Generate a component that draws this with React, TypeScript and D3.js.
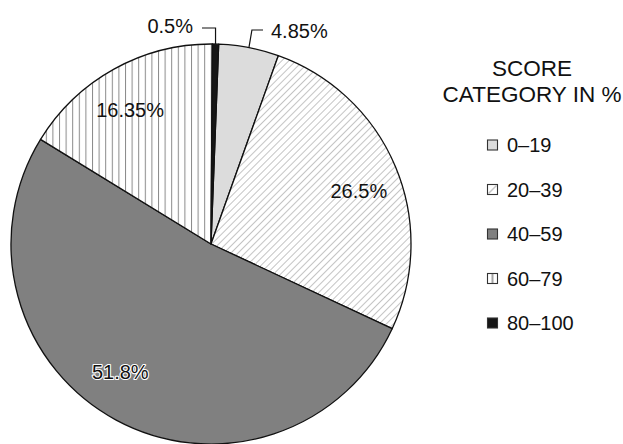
import React, { useEffect, useRef } from "react";
import * as d3 from "d3";

const categories = ["0–19", "20–39", "40–59", "60–79", "80–100"];
const shares = [4.85, 26.5, 51.8, 16.35, 0.5];
const labels = ["4.85%", "26.5%", "51.8%", "16.35%", "0.5%"];
const legendTitle = ["SCORE", "CATEGORY IN %"];

const W = 623;
const H = 444;
const FONT = "'Liberation Sans', Arial, sans-serif";

export default function App() {
  const ref = useRef<SVGSVGElement | null>(null);

  useEffect(() => {
    const svg = d3.select(ref.current);
    svg.selectAll("*").remove();

    const cx = 211, cy = 244, r = 200;
    const rot = (2.2 * Math.PI) / 180;

    const defs = svg.append("defs");
    const diag = defs.append("pattern").attr("id", "pDiag").attr("patternUnits", "userSpaceOnUse")
      .attr("width", 5).attr("height", 5).attr("patternTransform", "rotate(45)");
    diag.append("rect").attr("width", 5).attr("height", 5).attr("fill", "#fff");
    diag.append("line").attr("x1", 0).attr("y1", 0).attr("x2", 0).attr("y2", 5)
      .attr("stroke", "#8a8a8a").attr("stroke-width", 1);
    const vert = defs.append("pattern").attr("id", "pVert").attr("patternUnits", "userSpaceOnUse")
      .attr("width", 6.6).attr("height", 10).attr("x", cx);
    vert.append("rect").attr("width", 6.6).attr("height", 10).attr("fill", "#fff");
    vert.append("line").attr("x1", 0.5).attr("y1", 0).attr("x2", 0.5).attr("y2", 10)
      .attr("stroke", "#8a8a8a").attr("stroke-width", 1);

    const fills = ["#dcdcdc", "url(#pDiag)", "#808080", "url(#pVert)", "#161616"];
    const legendFills = ["#dcdcdc", "url(#pDiagL)", "#808080", "url(#pVertL)", "#161616"];

    const pie = d3.pie<number>().sort(null).value((d) => d)
      .startAngle(rot).endAngle(rot + 2 * Math.PI);
    const arcs = pie(shares);
    const arc = d3.arc<d3.PieArcDatum<number>>().innerRadius(0).outerRadius(r);

    const g = svg.append("g").attr("transform", `translate(${cx},${cy})`);
    g.selectAll("path.slice").data(arcs).enter().append("path")
      .attr("class", "slice")
      .attr("d", arc as any)
      .attr("fill", (_d, i) => fills[i])
      .attr("stroke", "#111")
      .attr("stroke-width", 1.3)
      .attr("stroke-linejoin", "round");

    // inside labels
    const labelR = 157;
    const angleNudge: Record<number, number> = { 1: 3, 2: 7, 3: -2 };
    const inside = [1, 2, 3];
    inside.forEach((i) => {
      const a = arcs[i];
      const mid = (a.startAngle + a.endAngle) / 2 + ((angleNudge[i] || 0) * Math.PI) / 180;
      const x = labelR * Math.sin(mid);
      const y = -labelR * Math.cos(mid);
      const t = g.append("text")
        .attr("x", x).attr("y", y)
        .attr("dy", "0.36em")
        .attr("text-anchor", "middle")
        .attr("font-family", FONT)
        .attr("font-size", 20)
        .attr("fill", "#111")
        .text(labels[i]);
      if (i === 2) {
        t.attr("stroke", "#fff").attr("stroke-width", 2.2).attr("paint-order", "stroke")
          .attr("stroke-linejoin", "round");
      }
    });

    // outside labels with leaders
    const outside = [
      { i: 0, ly: -214, lx: 52, anchor: "start", tx: 60, ty: -206 },
      { i: 4, ly: -216, lx: -9, anchor: "end", tx: -18, ty: -211 },
    ];
    outside.forEach((o) => {
      const a = arcs[o.i];
      const mid = (a.startAngle + a.endAngle) / 2;
      const px = r * Math.sin(mid);
      const py = -r * Math.cos(mid);
      const topX = o.i === 0 ? px + 3 : px;
      g.append("path")
        .attr("d", `M${px},${py}L${topX},${o.ly}L${o.lx},${o.ly}`)
        .attr("fill", "none").attr("stroke", "#111").attr("stroke-width", 1.2);
      g.append("text")
        .attr("x", o.tx).attr("y", o.ty)
        .attr("text-anchor", o.anchor)
        .attr("font-family", FONT).attr("font-size", 20).attr("fill", "#111")
        .text(labels[o.i]);
    });

    // legend
    const lg = svg.append("g");
    legendTitle.forEach((t, k) => {
      lg.append("text")
        .attr("x", 532).attr("y", 76 + k * 26)
        .attr("text-anchor", "middle")
        .attr("font-family", FONT).attr("font-size", 22.5).attr("fill", "#111")
        .text(t);
    });

    const dl = defs.append("pattern").attr("id", "pDiagL").attr("patternUnits", "objectBoundingBox")
      .attr("width", 1).attr("height", 1);
    dl.append("rect").attr("width", 10).attr("height", 10).attr("fill", "#fff");
    dl.append("line").attr("x1", 1).attr("y1", 9).attr("x2", 9).attr("y2", 1)
      .attr("stroke", "#888").attr("stroke-width", 1);
    const vl = defs.append("pattern").attr("id", "pVertL").attr("patternUnits", "objectBoundingBox")
      .attr("width", 1).attr("height", 1);
    vl.append("rect").attr("width", 10).attr("height", 10).attr("fill", "#fff");
    vl.append("line").attr("x1", 5).attr("y1", 0).attr("x2", 5).attr("y2", 10)
      .attr("stroke", "#666").attr("stroke-width", 1.2);

    const y = d3.scalePoint<string>().domain(categories).range([145, 323]);
    const items = lg.selectAll("g.item").data(categories).enter().append("g")
      .attr("class", "item")
      .attr("transform", (d) => `translate(487,${y(d)})`);
    items.append("rect")
      .attr("x", 0.5).attr("y", -5).attr("width", 10).attr("height", 10)
      .attr("fill", (_d, i) => legendFills[i])
      .attr("stroke", "#333").attr("stroke-width", 1.1);
    items.append("text")
      .attr("x", 20).attr("y", 0).attr("dy", "0.36em")
      .attr("font-family", FONT).attr("font-size", 20).attr("fill", "#111")
      .text((d) => d);
  }, []);

  return (
    <svg
      ref={ref}
      width={W}
      height={H}
      style={{ position: "absolute", left: 0, top: 0, background: "#fff" }}
    />
  );
}
